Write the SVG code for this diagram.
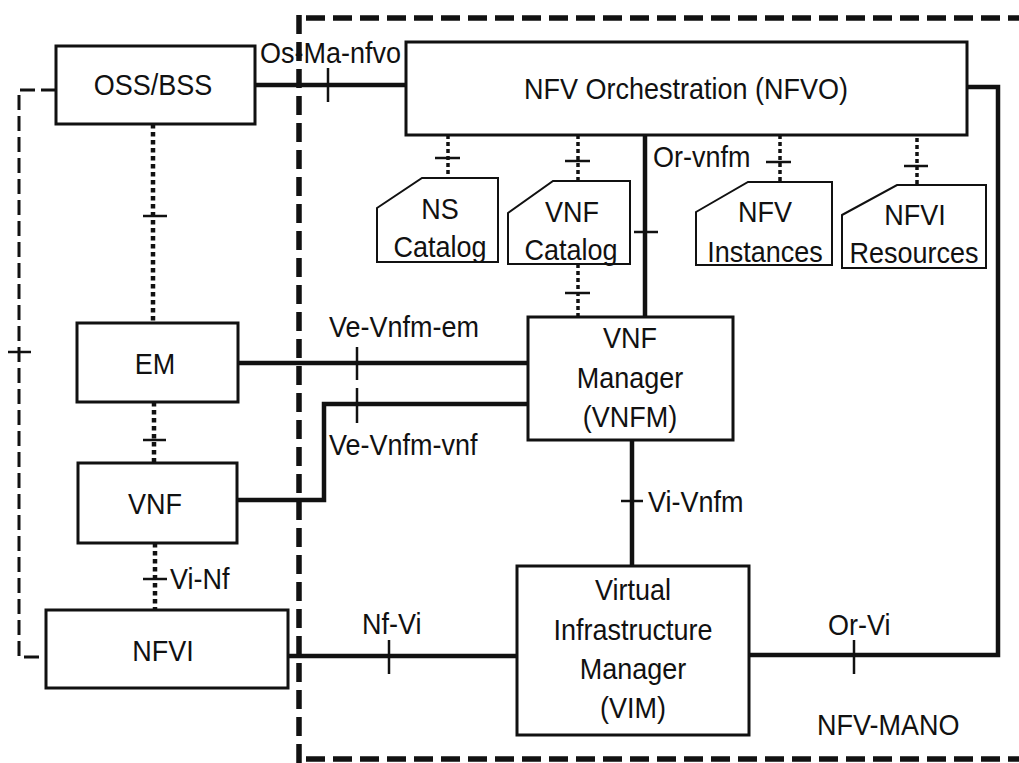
<svg xmlns="http://www.w3.org/2000/svg" width="1019" height="763" viewBox="0 0 1019 763">
<style>
text{font-family:"Liberation Sans",Arial,sans-serif;font-size:30px;fill:#111}
.c{text-anchor:middle}
.box{fill:#fff;stroke:#111;stroke-width:3}
.cat{fill:#fff;stroke:#111;stroke-width:2}
.solid{fill:none;stroke:#111;stroke-width:4.5}
.dot{fill:none;stroke:#111;stroke-width:4.5;stroke-dasharray:4.5 3.5}
.dot2{fill:none;stroke:#111;stroke-width:3.5;stroke-dasharray:4 3}
.dash{fill:none;stroke:#111;stroke-width:3;stroke-dasharray:15 6}
.mano{fill:none;stroke:#111;stroke-width:5.5;stroke-dasharray:19 8}
.tick{fill:none;stroke:#111;stroke-width:2.5}
</style>
<rect width="1019" height="763" fill="#fff"/>
<g id="mano-boundary">
<path class="mano" d="M299,15 V763"/>
<path class="mano" d="M306,18 H1019"/>
<path class="mano" d="M306,759 H1019"/>
<text transform="translate(817,735) scale(0.9,1)">NFV-MANO</text>
</g>
<g id="connectors">
<path class="dash" d="M56,90 H19 V657 H46"/>
<path class="tick" d="M8,352 H31"/>
<path class="solid" d="M255,85 H406"/>
<path class="tick" d="M328,68 V102"/>
<path class="solid" d="M967,87 H998 V655 H749"/>
<path class="tick" d="M854,640 V674"/>
<path class="dot" d="M153,124 V323"/>
<path class="tick" d="M143,216 H167"/>
<path class="dot" d="M154,402 V463"/>
<path class="tick" d="M143,440 H166"/>
<path class="dot" d="M155,543 V610"/>
<path class="tick" d="M143,579 H167"/>
<path class="solid" d="M288,656 H517"/>
<path class="tick" d="M389,640 V674"/>
<path class="solid" d="M238,363 H528"/>
<path class="tick" d="M357,347 V380"/>
<path class="solid" d="M237,500 H324 V404 H528"/>
<path class="tick" d="M357,388 V423"/>
<path class="solid" d="M645,135 V317"/>
<path class="tick" d="M634,232 H658"/>
<path class="solid" d="M632,440 V566"/>
<path class="tick" d="M621,501 H643"/>
<path class="dot2" d="M448,135 V178"/>
<path class="tick" d="M435,158 H460"/>
<path class="dot2" d="M578,135 V181"/>
<path class="tick" d="M565,161 H590"/>
<path class="dot2" d="M578,264 V317"/>
<path class="tick" d="M565,293 H590"/>
<path class="dot2" d="M780,135 V182"/>
<path class="tick" d="M766,162 H791"/>
<path class="dot2" d="M917,138 V185"/>
<path class="tick" d="M904,166 H928"/>
<text transform="translate(260,63) scale(0.9,1)">Os-Ma-nfvo</text>
<text transform="translate(653,167) scale(0.9,1)">Or-vnfm</text>
<text transform="translate(329,337) scale(0.9,1)">Ve-Vnfm-em</text>
<text transform="translate(329,455) scale(0.9,1)">Ve-Vnfm-vnf</text>
<text transform="translate(648,512) scale(0.9,1)">Vi-Vnfm</text>
<text transform="translate(170,589) scale(0.9,1)">Vi-Nf</text>
<text transform="translate(362,634) scale(0.9,1)">Nf-Vi</text>
<text transform="translate(828,635) scale(0.9,1)">Or-Vi</text>
</g>
<g id="oss-bss">
<rect class="box" x="56" y="46" width="199" height="78"/>
<text class="c" transform="translate(153,95) scale(0.9,1)">OSS/BSS</text>
</g>
<g id="nfvo">
<rect class="box" x="406" y="42" width="561" height="93"/>
<text class="c" transform="translate(686,99) scale(0.9,1)">NFV Orchestration (NFVO)</text>
</g>
<g id="ns-catalog">
<path class="cat" d="M377,208 L422,178 H498 V262 H377 Z"/>
<text class="c" transform="translate(440,219) scale(0.9,1)">NS</text>
<text class="c" transform="translate(440,257) scale(0.9,1)">Catalog</text>
</g>
<g id="vnf-catalog">
<path class="cat" d="M508,213 L553,181 H630 V264 H508 Z"/>
<text class="c" transform="translate(572,222) scale(0.9,1)">VNF</text>
<text class="c" transform="translate(571,260) scale(0.9,1)">Catalog</text>
</g>
<g id="nfv-instances">
<path class="cat" d="M696,212 L748,182 H832 V265 H696 Z"/>
<text class="c" transform="translate(765,222) scale(0.9,1)">NFV</text>
<text class="c" transform="translate(765,262) scale(0.9,1)">Instances</text>
</g>
<g id="nfvi-resources">
<path class="cat" d="M842,215 L897,185 H986 V268 H842 Z"/>
<text class="c" transform="translate(915,225) scale(0.9,1)">NFVI</text>
<text class="c" transform="translate(914,263) scale(0.9,1)">Resources</text>
</g>
<g id="em">
<rect class="box" x="77" y="323" width="161" height="79"/>
<text class="c" transform="translate(155,374) scale(0.9,1)">EM</text>
</g>
<g id="vnf">
<rect class="box" x="78" y="463" width="159" height="80"/>
<text class="c" transform="translate(155,514) scale(0.9,1)">VNF</text>
</g>
<g id="nfvi">
<rect class="box" x="46" y="610" width="242" height="78"/>
<text class="c" transform="translate(163,661) scale(0.9,1)">NFVI</text>
</g>
<g id="vnfm">
<rect class="box" x="528" y="317" width="205" height="123"/>
<text class="c" transform="translate(630,348) scale(0.9,1)">VNF</text>
<text class="c" transform="translate(630,388) scale(0.9,1)">Manager</text>
<text class="c" transform="translate(630,427) scale(0.9,1)">(VNFM)</text>
</g>
<g id="vim">
<rect class="box" x="517" y="566" width="232" height="169"/>
<text class="c" transform="translate(633,600) scale(0.9,1)">Virtual</text>
<text class="c" transform="translate(633,640) scale(0.9,1)">Infrastructure</text>
<text class="c" transform="translate(633,679) scale(0.9,1)">Manager</text>
<text class="c" transform="translate(633,718) scale(0.9,1)">(VIM)</text>
</g>
</svg>
